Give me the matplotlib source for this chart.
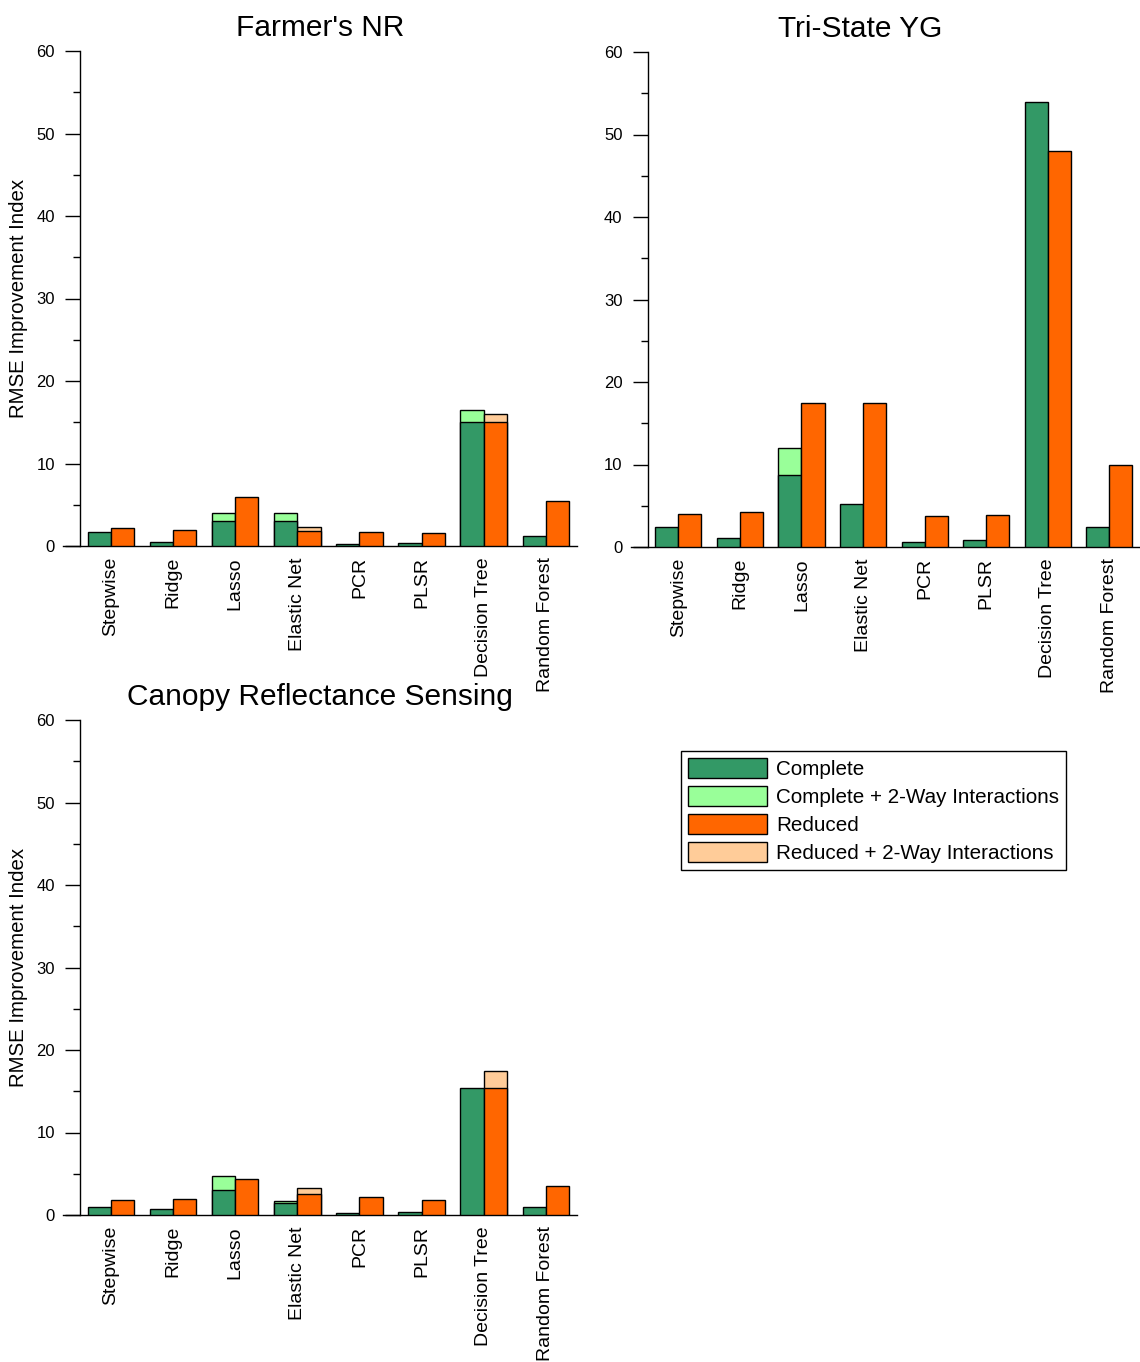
import numpy as np
import matplotlib
matplotlib.use("Agg")
import matplotlib.pyplot as plt
from matplotlib.patches import Patch

plt.rcParams["font.family"] = ["Liberation Sans", "DejaVu Sans"]

methods = ["Stepwise", "Ridge", "Lasso", "Elastic Net", "PCR", "PLSR",
           "Decision Tree", "Random Forest"]

# RMSE improvement index per model family (NaN = interaction model not shown)
nr_complete = [1.7, 0.5, 3.0, 3.0, 0.2, 0.33, 15.0, 1.2]
nr_complete_int = [np.nan, np.nan, 4.0, 4.0, np.nan, np.nan, 16.5, np.nan]
nr_reduced = [2.2, 1.95, 6.0, 1.85, 1.75, 1.6, 15.0, 5.4]
nr_reduced_int = [np.nan, np.nan, np.nan, 2.3, np.nan, np.nan, 16.0, np.nan]

yg_complete = [2.4, 1.1, 8.7, 5.2, 0.65, 0.9, 54.0, 2.4]
yg_complete_int = [np.nan, np.nan, 12.0, np.nan, np.nan, np.nan, np.nan, np.nan]
yg_reduced = [4.05, 4.2, 17.5, 17.5, 3.8, 3.9, 48.0, 10.0]
yg_reduced_int = [np.nan] * 8

crs_complete = [1.0, 0.7, 3.07, 1.4, 0.3, 0.4, 15.4, 0.93]
crs_complete_int = [np.nan, np.nan, 4.7, 1.65, np.nan, np.nan, np.nan, np.nan]
crs_reduced = [1.8, 1.9, 4.4, 2.6, 2.2, 1.8, 15.4, 3.5]
crs_reduced_int = [np.nan, np.nan, np.nan, 3.3, np.nan, np.nan, 17.5, np.nan]

series_labels = ["Complete", "Complete + 2-Way Interactions", "Reduced",
                 "Reduced + 2-Way Interactions"]
colors = ["#339966", "#99FF99", "#FF6600", "#FFCC99"]

W, H = 1140, 1362
fig = plt.figure(figsize=(W / 100, H / 100), dpi=100)


def fig_rect(x0, x1, y_top, y_bot):
    return [x0 / W, 1 - y_bot / H, (x1 - x0) / W, (y_bot - y_top) / H]


panels = [
    ("Farmer's NR", fig_rect(63, 577, 51, 546), 0.5, True,
     nr_complete, nr_complete_int, nr_reduced, nr_reduced_int),
    ("Tri-State YG", fig_rect(631, 1140, 52, 547), 0.45, False,
     yg_complete, yg_complete_int, yg_reduced, yg_reduced_int),
    ("Canopy Reflectance Sensing", fig_rect(63, 577, 720, 1215), 0.5, True,
     crs_complete, crs_complete_int, crs_reduced, crs_reduced_int),
]

bw = 0.375
x = np.arange(len(methods))

for title, rect, tx, ylab, comp, comp_int, red, red_int in panels:
    ax = fig.add_axes(rect)
    comp_int = np.asarray(comp_int, dtype=float)
    red_int = np.asarray(red_int, dtype=float)
    m = ~np.isnan(comp_int)
    ax.bar(x[m] - bw / 2, comp_int[m], bw, color=colors[1], edgecolor="black",
           linewidth=1.0, zorder=2)
    ax.bar(x - bw / 2, comp, bw, color=colors[0], edgecolor="black",
           linewidth=1.0, zorder=3)
    m = ~np.isnan(red_int)
    ax.bar(x[m] + bw / 2, red_int[m], bw, color=colors[3], edgecolor="black",
           linewidth=1.0, zorder=2)
    ax.bar(x + bw / 2, red, bw, color=colors[2], edgecolor="black",
           linewidth=1.0, zorder=3)

    ax.set_xlim(-0.77, 7.5)
    ax.set_ylim(0, 60)
    ax.spines["top"].set_visible(False)
    ax.spines["right"].set_visible(False)
    ax.spines["left"].set_position(("data", -0.5))
    ax.spines["left"].set_bounds(0, 60)
    ax.spines["left"].set_linewidth(1.0)
    ax.spines["bottom"].set_linewidth(1.0)

    ax.set_yticks(np.arange(0, 61, 10))
    ax.set_yticks(np.arange(5, 60, 10), minor=True)
    ax.tick_params(axis="y", which="major", length=11, width=1.0,
                   labelsize=12, pad=7)
    ax.tick_params(axis="y", which="minor", length=5, width=1.0)
    ax.set_xticks(x)
    ax.set_xticklabels(methods, rotation=90, fontsize=14)
    ax.tick_params(axis="x", which="both", length=0, pad=8)

    ax.set_title(title, fontsize=21.5, x=tx, pad=11)
    if ylab:
        ax.set_ylabel("RMSE Improvement Index", fontsize=14.7, labelpad=6)

handles = [Patch(facecolor=c, edgecolor="black", linewidth=1.0) for c in colors]
leg = fig.legend(handles, series_labels, loc="upper left",
                 bbox_to_anchor=(681 / W, 1 - 751 / H),
                 bbox_transform=fig.transFigure,
                 borderaxespad=0, fontsize=14.9, frameon=True, fancybox=False,
                 edgecolor="black", framealpha=1, handlelength=3.8,
                 handleheight=1.1, handletextpad=0.45, labelspacing=0.33,
                 borderpad=0.35)
leg.get_frame().set_linewidth(1.0)

fig.savefig("out.png", dpi=100)
